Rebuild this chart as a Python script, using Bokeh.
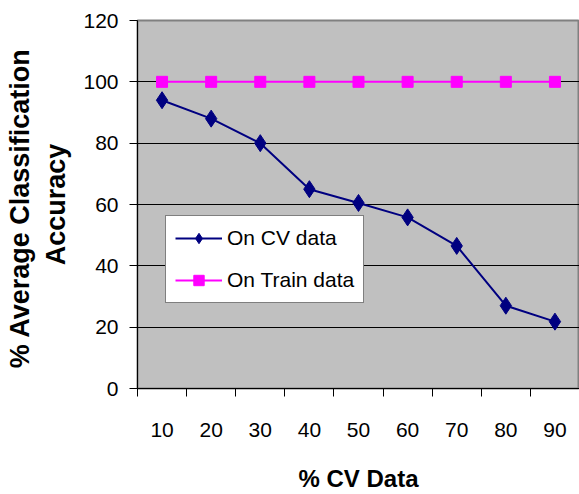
from bokeh.plotting import figure
from bokeh.models import Range1d, FixedTicker, Legend, LegendItem
from bokeh.embed import file_html
from bokeh.resources import INLINE

# ---- data ----
cv_percent = ["10", "20", "30", "40", "50", "60", "70", "80", "90"]
acc_cv = [94.0, 88.0, 80.0, 65.0, 60.5, 55.8, 46.5, 27.0, 21.8]
acc_train = [100, 100, 100, 100, 100, 100, 100, 100, 100]
y_ticks = [0, 20, 40, 60, 80, 100, 120]

xpos = [i + 0.5 for i in range(len(cv_percent))]
FONT = "Liberation Sans"

p = figure(width=579, height=494, output_backend="svg", toolbar_location=None,
           x_range=Range1d(0, len(cv_percent)), y_range=Range1d(0, 120),
           min_border_left=137, min_border_right=0, min_border_top=20,
           min_border_bottom=106)

p.background_fill_color = "#C0C0C0"
p.border_fill_color = "white"
p.outline_line_color = "#808080"
p.outline_line_width = 2

# grid
p.xgrid.visible = False
p.ygrid.ticker = FixedTicker(ticks=y_ticks[1:-1])
p.ygrid.grid_line_color = "black"
p.ygrid.grid_line_width = 1

# x axis: labels at category centres, ticks between categories
xa = p.xaxis[0]
xa.ticker = FixedTicker(ticks=xpos, minor_ticks=list(range(len(cv_percent) + 1)))
xa.major_label_overrides = {x: lab for x, lab in zip(xpos, cv_percent)}
xa.major_tick_out = 0
xa.major_tick_in = 0
xa.minor_tick_out = 8
xa.minor_tick_in = 0
xa.minor_tick_line_color = "black"
xa.axis_line_color = "black"
xa.major_label_text_font = FONT
xa.major_label_text_font_size = "21px"
xa.major_label_text_color = "black"
xa.major_label_standoff = 26
xa.axis_label = "% CV Data"
xa.axis_label_text_font = FONT
xa.axis_label_text_font_style = "bold"
xa.axis_label_text_font_size = "24px"
xa.axis_label_text_color = "black"
xa.axis_label_standoff = 25

# y axis
ya = p.yaxis[0]
ya.ticker = FixedTicker(ticks=y_ticks)
ya.major_tick_out = 8
ya.major_tick_in = 0
ya.minor_tick_out = 0
ya.minor_tick_in = 0
ya.major_tick_line_color = "black"
ya.axis_line_color = "black"
ya.major_label_text_font = FONT
ya.major_label_text_font_size = "21px"
ya.major_label_text_color = "black"
ya.major_label_standoff = 11
ya.axis_label = "%  Average Classification\nAccuracy"
ya.axis_label_text_font = FONT
ya.axis_label_text_font_style = "bold"
ya.axis_label_text_font_size = "27px"
ya.axis_label_text_color = "black"
ya.axis_label_standoff = 9

# series
l1 = p.line(xpos, acc_cv, line_color="#000080", line_width=2)
s1 = p.scatter(xpos, acc_cv, marker="diamond", size=17, fill_color="#000080",
               line_color="#000080")
l2 = p.line(xpos, acc_train, line_color="#FF00FF", line_width=2)
s2 = p.scatter(xpos, acc_train, marker="square", size=11, fill_color="#FF00FF",
               line_color="#FF00FF")

legend = Legend(items=[LegendItem(label="On CV data", renderers=[l1, s1]),
                       LegendItem(label="On Train data", renderers=[l2, s2])],
                location=(28, 85), padding=9, spacing=16, margin=0,
                glyph_width=47, glyph_height=26, label_standoff=5,
                label_text_font=FONT, label_text_font_size="21px",
                label_text_color="black",
                border_line_color="black", border_line_width=1,
                background_fill_color="white", background_fill_alpha=1)
p.add_layout(legend)

open("out.html", "w").write(file_html(p, INLINE))
